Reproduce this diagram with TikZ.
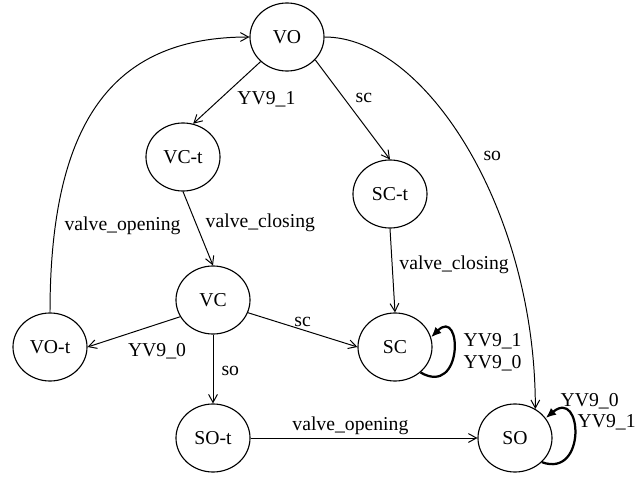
\documentclass[tikz,border=0pt]{standalone}
\usepackage{fontspec}
\setmainfont{Liberation Serif}
\usetikzlibrary{shapes.geometric,arrows.meta}

\begin{document}
\begin{tikzpicture}[x=0.025cm,y=0.025cm,
    every node/.style={font=\fontsize{14}{15.6}\selectfont},
    state/.style={ellipse,draw,line width=0.8pt,minimum width=1.85cm,minimum height=1.7cm,inner sep=0pt},
    trans/.style={line width=0.7pt,-{Straight Barb[length=2mm,width=2.2mm]}},
    selfloop/.style={line width=1.6pt,-{Latex[length=2.6mm,width=2.2mm]}},
    lbl/.style={inner sep=2pt}]

  % canvas (1 unit = 1px of a 640 x 476 sheet)
  \useasboundingbox (0,0) rectangle (640,476);

  %==========================
  % States
  %==========================
  \node[state] (VO)  at (287,439) {VO};
  \node[state] (VCt) at (183,319) {VC-t};
  \node[state] (SCt) at (390,282) {SC-t};
  \node[state] (VC)  at (213,176) {VC};
  \node[state] (VOt) at (50,129)  {VO-t};
  \node[state] (SC)  at (395,129) {SC};
  \node[state] (SOt) at (213,38)  {SO-t};
  \node[state] (SO)  at (515,38)  {SO};

  %==========================
  % Transitions
  %==========================
  % out of VO
  \draw[trans] (VO.-137) -- (VCt.73)
    node[lbl,pos=.6,anchor=west,xshift=3.5mm] {YV9\_1};
  \draw[trans] (VO.-39) -- (SCt.north)
    node[lbl,pos=.38,anchor=west,xshift=2.2mm] {sc};
  \draw[trans] (VO.east) .. controls +(100,0) and +(0,200) .. (SO.55)
    node[lbl,pos=.52,anchor=west,xshift=2mm] {so};

  % valve moving
  \draw[trans] (VCt.south) -- (VC.north)
    node[lbl,pos=.42,anchor=west,xshift=1.7mm] {valve\_closing};
  \draw[trans] (SCt.south) -- (SC.north)
    node[lbl,pos=.43,anchor=west,xshift=1mm] {valve\_closing};
  \draw[trans] (VOt.north) .. controls +(0,200) and +(-130,0) .. (VO.west)
    node[lbl,pos=.16,anchor=west,xshift=1.5mm] {valve\_opening};
  \draw[trans] (SOt.east) -- (SO.west)
    node[lbl,pos=.44,anchor=south] {valve\_opening};

  % out of VC
  \draw[trans] (VC.207) -- (VOt.east)
    node[lbl,pos=.25,anchor=north,yshift=-3.9mm] {YV9\_0};
  \draw[trans] (VC.-20) -- (SC.west)
    node[lbl,midway,anchor=south] {sc};
  \draw[trans] (VC.south) -- (SOt.north)
    node[lbl,pos=.53,anchor=west,xshift=1.3mm] {so};

  % self loops
  \draw[selfloop] (SC.-45) .. controls +(-30:1.25cm) and +(45:1.1cm) .. (SC.15)
    node[lbl,pos=.5,anchor=west,xshift=1.5mm,align=left] {YV9\_1\\YV9\_0};
  \draw[selfloop] (SO.-42) .. controls +(-20:1.2cm) and +(40:1.2cm) .. (SO.33)
    node[lbl,pos=.8,anchor=west,xshift=-1.75mm,yshift=2.7mm] {YV9\_0}
    node[lbl,pos=.8,anchor=west,xshift=2.5mm,yshift=-2.55mm] {YV9\_1};

\end{tikzpicture}
\end{document}
